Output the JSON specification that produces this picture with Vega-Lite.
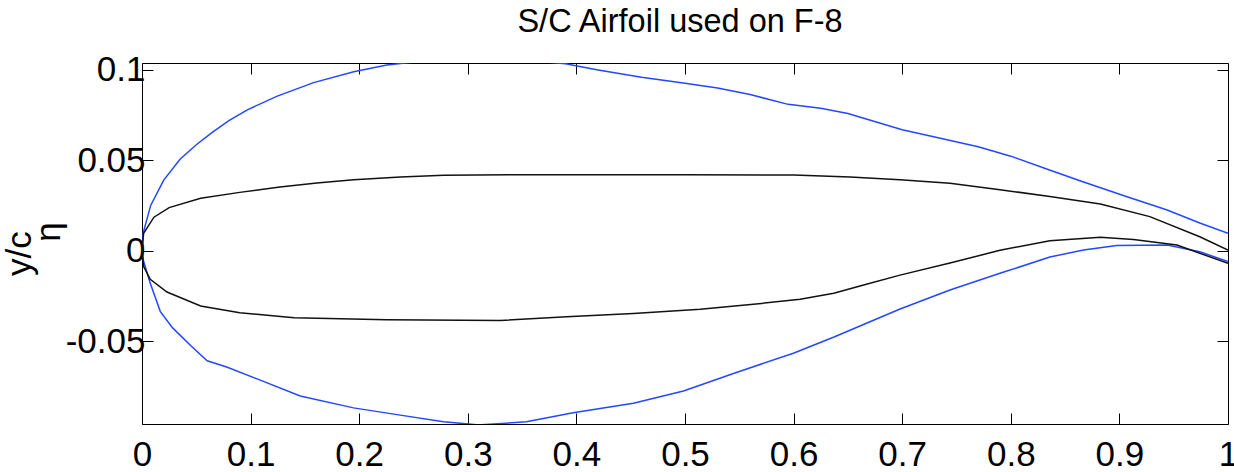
{
  "$schema": "https://vega.github.io/schema/vega-lite/v6.json",
  "width": 1086,
  "height": 361,
  "autosize": {"type": "none"},
  "padding": {"left": 142, "top": 63, "right": 6, "bottom": 48},
  "background": "white",
  "title": {
    "text": "S/C Airfoil used on F-8",
    "font": "Liberation Sans",
    "fontSize": 32.5,
    "fontWeight": "normal",
    "color": "black",
    "offset": 14,
    "dx": -5,
    "anchor": "middle"
  },
  "config": {
    "view": {"stroke": null},
    "axis": {
      "grid": false,
      "domainColor": "black",
      "domainWidth": 1,
      "tickColor": "black",
      "tickWidth": 1,
      "tickSize": -11,
      "labelFont": "Liberation Sans",
      "labelFontSize": 35,
      "labelColor": "black",
      "titleFont": "Liberation Sans",
      "titleFontSize": 35,
      "titleFontWeight": "normal",
      "titleColor": "black"
    }
  },
  "data": {
    "values": [
      {"s": "blue_upper", "x": 0, "y": 0},
      {"s": "blue_upper", "x": 0.001, "y": 0.0096},
      {"s": "blue_upper", "x": 0.008, "y": 0.025},
      {"s": "blue_upper", "x": 0.02, "y": 0.039},
      {"s": "blue_upper", "x": 0.035, "y": 0.0505},
      {"s": "blue_upper", "x": 0.05, "y": 0.0585},
      {"s": "blue_upper", "x": 0.065, "y": 0.0655},
      {"s": "blue_upper", "x": 0.08, "y": 0.0718},
      {"s": "blue_upper", "x": 0.097, "y": 0.0778},
      {"s": "blue_upper", "x": 0.124, "y": 0.0852},
      {"s": "blue_upper", "x": 0.158, "y": 0.0928},
      {"s": "blue_upper", "x": 0.195, "y": 0.0988},
      {"s": "blue_upper", "x": 0.2255, "y": 0.1025},
      {"s": "blue_upper", "x": 0.26, "y": 0.1048},
      {"s": "blue_upper", "x": 0.31, "y": 0.1058},
      {"s": "blue_upper", "x": 0.36, "y": 0.1048},
      {"s": "blue_upper", "x": 0.39, "y": 0.1032},
      {"s": "blue_upper", "x": 0.42, "y": 0.0998},
      {"s": "blue_upper", "x": 0.46, "y": 0.0958},
      {"s": "blue_upper", "x": 0.5, "y": 0.0925},
      {"s": "blue_upper", "x": 0.53, "y": 0.0898},
      {"s": "blue_upper", "x": 0.56, "y": 0.0862},
      {"s": "blue_upper", "x": 0.595, "y": 0.0808},
      {"s": "blue_upper", "x": 0.625, "y": 0.0786},
      {"s": "blue_upper", "x": 0.65, "y": 0.0758},
      {"s": "blue_upper", "x": 0.7, "y": 0.0668},
      {"s": "blue_upper", "x": 0.73, "y": 0.0628},
      {"s": "blue_upper", "x": 0.77, "y": 0.0574},
      {"s": "blue_upper", "x": 0.8, "y": 0.0522},
      {"s": "blue_upper", "x": 0.835, "y": 0.0447},
      {"s": "blue_upper", "x": 0.865, "y": 0.0383},
      {"s": "blue_upper", "x": 0.907, "y": 0.0298},
      {"s": "blue_upper", "x": 0.944, "y": 0.0225},
      {"s": "blue_upper", "x": 0.974, "y": 0.0153},
      {"s": "blue_upper", "x": 1.0, "y": 0.0096},

      {"s": "blue_lower", "x": 0, "y": 0},
      {"s": "blue_lower", "x": 0.0015, "y": -0.006},
      {"s": "blue_lower", "x": 0.0076, "y": -0.018},
      {"s": "blue_lower", "x": 0.0168, "y": -0.0335},
      {"s": "blue_lower", "x": 0.028, "y": -0.0425},
      {"s": "blue_lower", "x": 0.045, "y": -0.0525},
      {"s": "blue_lower", "x": 0.06, "y": -0.0608},
      {"s": "blue_lower", "x": 0.078, "y": -0.0642},
      {"s": "blue_lower", "x": 0.106, "y": -0.0708},
      {"s": "blue_lower", "x": 0.1457, "y": -0.0802},
      {"s": "blue_lower", "x": 0.1948, "y": -0.0868},
      {"s": "blue_lower", "x": 0.2378, "y": -0.0908},
      {"s": "blue_lower", "x": 0.2777, "y": -0.0945},
      {"s": "blue_lower", "x": 0.31, "y": -0.0962},
      {"s": "blue_lower", "x": 0.354, "y": -0.0945},
      {"s": "blue_lower", "x": 0.397, "y": -0.0895},
      {"s": "blue_lower", "x": 0.4525, "y": -0.0842},
      {"s": "blue_lower", "x": 0.4986, "y": -0.0775},
      {"s": "blue_lower", "x": 0.5446, "y": -0.0678},
      {"s": "blue_lower", "x": 0.5998, "y": -0.0566},
      {"s": "blue_lower", "x": 0.6367, "y": -0.0478},
      {"s": "blue_lower", "x": 0.698, "y": -0.0322},
      {"s": "blue_lower", "x": 0.744, "y": -0.0217},
      {"s": "blue_lower", "x": 0.79, "y": -0.0125},
      {"s": "blue_lower", "x": 0.836, "y": -0.0035},
      {"s": "blue_lower", "x": 0.867, "y": 0.0004},
      {"s": "blue_lower", "x": 0.8975, "y": 0.0028},
      {"s": "blue_lower", "x": 0.944, "y": 0.0031},
      {"s": "blue_lower", "x": 0.974, "y": -0.0006},
      {"s": "blue_lower", "x": 1.0, "y": -0.006},

      {"s": "black_upper", "x": 0, "y": 0},
      {"s": "black_upper", "x": 0.0015, "y": 0.0096},
      {"s": "black_upper", "x": 0.011, "y": 0.0185},
      {"s": "black_upper", "x": 0.025, "y": 0.0238},
      {"s": "black_upper", "x": 0.054, "y": 0.0289},
      {"s": "black_upper", "x": 0.09, "y": 0.0322},
      {"s": "black_upper", "x": 0.127, "y": 0.0352},
      {"s": "black_upper", "x": 0.161, "y": 0.0374},
      {"s": "black_upper", "x": 0.195, "y": 0.0392},
      {"s": "black_upper", "x": 0.238, "y": 0.0407},
      {"s": "black_upper", "x": 0.278, "y": 0.0416},
      {"s": "black_upper", "x": 0.35, "y": 0.042},
      {"s": "black_upper", "x": 0.5, "y": 0.042},
      {"s": "black_upper", "x": 0.6, "y": 0.0418},
      {"s": "black_upper", "x": 0.652, "y": 0.0407},
      {"s": "black_upper", "x": 0.698, "y": 0.0392},
      {"s": "black_upper", "x": 0.744, "y": 0.0372},
      {"s": "black_upper", "x": 0.79, "y": 0.0337},
      {"s": "black_upper", "x": 0.836, "y": 0.0299},
      {"s": "black_upper", "x": 0.8825, "y": 0.0258},
      {"s": "black_upper", "x": 0.928, "y": 0.0188},
      {"s": "black_upper", "x": 0.974, "y": 0.0077},
      {"s": "black_upper", "x": 1.0, "y": 0.0004},

      {"s": "black_lower", "x": 0, "y": 0},
      {"s": "black_lower", "x": 0.0015, "y": -0.0088},
      {"s": "black_lower", "x": 0.0076, "y": -0.0158},
      {"s": "black_lower", "x": 0.023, "y": -0.0228},
      {"s": "black_lower", "x": 0.054, "y": -0.0305},
      {"s": "black_lower", "x": 0.09, "y": -0.0343},
      {"s": "black_lower", "x": 0.14, "y": -0.0370},
      {"s": "black_lower", "x": 0.2255, "y": -0.0382},
      {"s": "black_lower", "x": 0.33, "y": -0.0385},
      {"s": "black_lower", "x": 0.391, "y": -0.0365},
      {"s": "black_lower", "x": 0.4525, "y": -0.0347},
      {"s": "black_lower", "x": 0.514, "y": -0.0324},
      {"s": "black_lower", "x": 0.563, "y": -0.0296},
      {"s": "black_lower", "x": 0.606, "y": -0.0268},
      {"s": "black_lower", "x": 0.637, "y": -0.0235},
      {"s": "black_lower", "x": 0.667, "y": -0.0185},
      {"s": "black_lower", "x": 0.698, "y": -0.0135},
      {"s": "black_lower", "x": 0.744, "y": -0.0068},
      {"s": "black_lower", "x": 0.79, "y": 0.0002},
      {"s": "black_lower", "x": 0.836, "y": 0.0055},
      {"s": "black_lower", "x": 0.8825, "y": 0.0074},
      {"s": "black_lower", "x": 0.913, "y": 0.0062},
      {"s": "black_lower", "x": 0.953, "y": 0.0031},
      {"s": "black_lower", "x": 1.0, "y": -0.007}
    ]
  },
  "resolve": {"axis": {"x": "independent", "y": "independent"}},
  "layer": [
    {
      "mark": {"type": "line", "clip": true, "strokeWidth": 1.5, "interpolate": "linear"},
      "encoding": {
        "x": {
          "field": "x", "type": "quantitative",
          "scale": {"domain": [0, 1], "nice": false, "zero": false},
          "axis": {
            "orient": "bottom",
            "values": [0, 0.1, 0.2, 0.3, 0.4, 0.5, 0.6, 0.7, 0.8, 0.9, 1],
            "labelExpr": "'' + datum.value",
            "labelPadding": 24,
            "labelFlush": false,
            "labelOverlap": false,
            "title": null
          }
        },
        "y": {
          "field": "y", "type": "quantitative",
          "scale": {"domain": [-0.0957, 0.10364], "nice": false, "zero": false},
          "axis": {
            "orient": "left",
            "values": [-0.05, 0, 0.05, 0.1],
            "labelExpr": "'' + datum.value",
            "labelPadding": 8,
            "labelFlush": false,
            "labelOverlap": false,
            "title": ["y/c\u00a0\u00a0\u200b", "\u200b\u00a0\u2009\u2009η"],
            "titleLineHeight": 29,
            "titlePadding": -1
          }
        },
        "color": {
          "field": "s", "type": "nominal",
          "scale": {"domain": ["blue_upper", "blue_lower", "black_upper", "black_lower"], "range": ["#2447ff", "#2447ff", "#111111", "#111111"]},
          "legend": null
        },
        "order": {"field": "x", "type": "quantitative"}
      }
    },
    {
      "mark": {"type": "line", "opacity": 0, "clip": true},
      "encoding": {
        "x": {
          "field": "x", "type": "quantitative",
          "axis": {
            "orient": "top",
            "values": [0, 0.1, 0.2, 0.3, 0.4, 0.5, 0.6, 0.7, 0.8, 0.9, 1],
            "labels": false,
            "title": null
          }
        },
        "y": {
          "field": "y", "type": "quantitative",
          "axis": {
            "orient": "right",
            "values": [-0.05, 0, 0.05, 0.1],
            "labels": false,
            "title": null
          }
        },
        "detail": {"field": "s", "type": "nominal"}
      }
    }
  ]
}
